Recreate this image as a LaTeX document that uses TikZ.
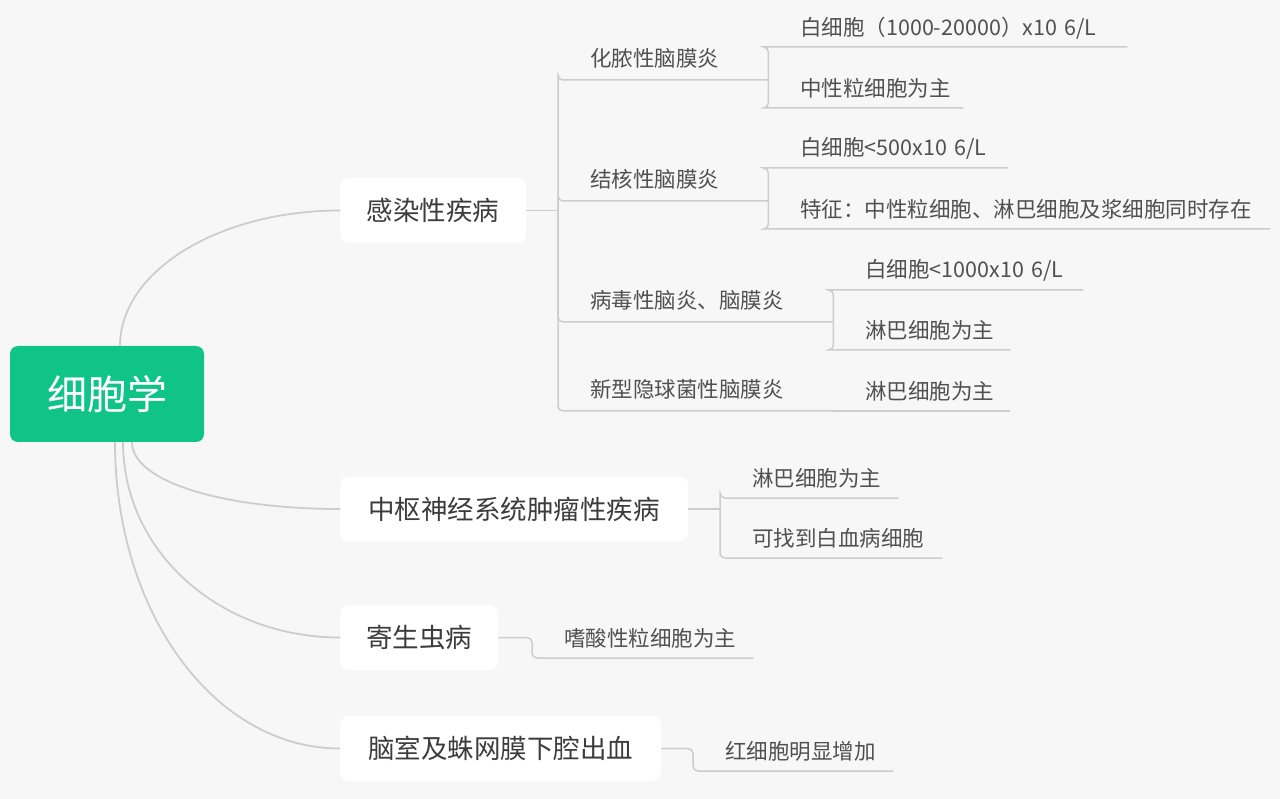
\documentclass[tikz,border=0pt]{standalone}
\usepackage{fontspec}
\setmainfont{Noto Sans CJK SC}
\definecolor{bg}{RGB}{247,247,247}
\definecolor{rootgreen}{RGB}{16,195,134}
\definecolor{linkgray}{RGB}{205,205,205}
\definecolor{txtdark}{RGB}{60,60,60}
\definecolor{txtmid}{RGB}{80,80,80}
\tikzset{
  link/.style={draw=linkgray, line width=1.8pt},
  ulink/.style={draw=linkgray, line width=1.5pt, rounded corners=5pt},
  rootbox/.style={fill=rootgreen, rounded corners=8pt, minimum width=194pt, minimum height=96pt,
    text=white, font=\fontsize{40}{48}\selectfont, inner sep=0pt},
  topic/.style={fill=white, rounded corners=9pt, anchor=west, minimum height=65pt,
    text=txtdark, font=\fontsize{26.5}{32}\selectfont, inner sep=0pt},
  midnode/.style={anchor=south west, minimum height=42pt, inner sep=0pt, align=left,
    text=txtmid, font=\fontsize{21.5}{26}\selectfont, execute at begin node={\hspace*{32pt}}},
  leafnode/.style={anchor=south west, minimum height=38pt, inner sep=0pt, align=left,
    text=txtmid, font=\fontsize{21.5}{26}\selectfont, execute at begin node={\hspace*{32pt}}}
}
\begin{document}
\begin{tikzpicture}[x=1pt,y=-1pt]
\fill[bg] (0,0) rectangle (1280,799);
\useasboundingbox (0,0) rectangle (1280,799);

% root
\node[rootbox] (root) at (107,394) {细胞学};

% main topics
\node[topic, minimum width=186pt] (inf) at (340,210.5) {感染性疾病};
\node[topic, minimum width=348pt] (tum) at (340,509) {中枢神经系统肿瘤性疾病};
\node[topic, minimum width=158pt] (par) at (340,637.5) {寄生虫病};
\node[topic, minimum width=321pt] (hem) at (340,748.5) {脑室及蛛网膜下腔出血};

% curves from root
\coordinate (r1) at (120,346);
\coordinate (r2) at (132,442);
\coordinate (r3) at (123,442);
\coordinate (r4) at (115,442);
\draw[link] (r1) .. controls (120,271) and (219,210.5) .. (inf.west);
\draw[link] (r2) .. controls (132,482) and (224,509) .. (tum.west);
\draw[link] (r3) .. controls (123,552) and (220,637.5) .. (par.west);
\draw[link] (r4) .. controls (115,612) and (214,748.5) .. (hem.west);

% level 2 under 感染性疾病
\node[midnode, text width=210pt] (a1) at (558,80) {化脓性脑膜炎};
\node[midnode, text width=210pt] (a2) at (558,201) {结核性脑膜炎};
\node[midnode, text width=275pt] (a3) at (558,322) {病毒性脑炎、脑膜炎};
\node[midnode, text width=275pt] (a4) at (558,411) {新型隐球菌性脑膜炎};

\coordinate (j1) at (558,210.5);
\draw[link] (inf.east) -- (j1);
\foreach \n in {a1,a2,a3,a4}{
  \draw[ulink] (j1) |- (\n.south west) -- (\n.south east);
}

% leaves
\node[leafnode, text width=359pt] (b1) at (768,47) {白细胞（1000-20000）x10 6/L};
\node[leafnode, text width=195pt] (b2) at (768,108) {中性粒细胞为主};
\node[leafnode, text width=240pt] (b3) at (768,168) {白细胞<500x10 6/L};
\node[leafnode, text width=502pt] (b4) at (768,229) {特征：中性粒细胞、淋巴细胞及浆细胞同时存在};
\node[leafnode, text width=250pt] (b5) at (833,290) {白细胞<1000x10 6/L};
\node[leafnode, text width=177pt] (b6) at (833,350) {淋巴细胞为主};
\node[leafnode, text width=177pt] (b7) at (833,411) {淋巴细胞为主};

\draw[ulink] (a1.south east) |- (b1.south west) -- (b1.south east);
\draw[ulink] (a1.south east) |- (b2.south west) -- (b2.south east);
\draw[ulink] (a2.south east) |- (b3.south west) -- (b3.south east);
\draw[ulink] (a2.south east) |- (b4.south west) -- (b4.south east);
\draw[ulink] (a3.south east) |- (b5.south west) -- (b5.south east);
\draw[ulink] (a3.south east) |- (b6.south west) -- (b6.south east);
\draw[ulink] (a4.south east) -- (b7.south west) -- (b7.south east);

% 中枢神经系统肿瘤性疾病
\node[leafnode, text width=178pt] (c1) at (720,498) {淋巴细胞为主};
\node[leafnode, text width=222pt] (c2) at (720,558) {可找到白血病细胞};
\coordinate (j2) at (720,509);
\draw[link] (tum.east) -- (j2);
\draw[ulink] (j2) |- (c1.south west) -- (c1.south east);
\draw[ulink] (j2) |- (c2.south west) -- (c2.south east);

% 寄生虫病
\node[leafnode, text width=221pt] (d1) at (532,658) {嗜酸性粒细胞为主};
\draw[ulink] (par.east) -| (d1.south west) -- (d1.south east);

% 脑室及蛛网膜下腔出血
\node[leafnode, text width=200pt] (e1) at (693,771) {红细胞明显增加};
\draw[ulink] (hem.east) -| (e1.south west) -- (e1.south east);
\end{tikzpicture}
\end{document}
